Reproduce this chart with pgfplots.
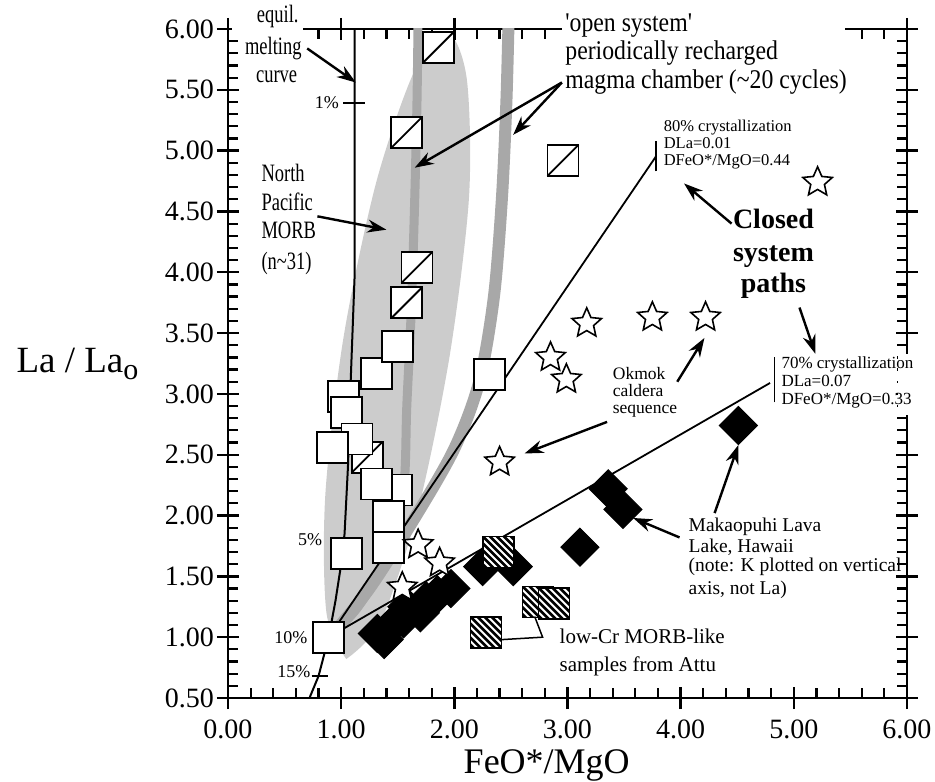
\documentclass[border=0pt]{standalone}
\usepackage{fontspec}
\setmainfont{Liberation Serif}
\newfontfamily\condA[FakeStretch=0.74]{Liberation Serif}
\newfontfamily\condB[FakeStretch=0.88]{Liberation Serif}
\usepackage{pgfplots}
\pgfplotsset{compat=1.18}
\usetikzlibrary{arrows.meta}
\newcommand\fs[2]{\fontsize{#1}{#2}\selectfont}

\pgfdeclareplotmark{sqdiag}{%
  \pgfpathrectangle{\pgfqpoint{-\pgfplotmarksize}{-\pgfplotmarksize}}{\pgfqpoint{2\pgfplotmarksize}{2\pgfplotmarksize}}%
  \pgfusepathqfillstroke
  \pgfpathmoveto{\pgfqpoint{-\pgfplotmarksize}{-\pgfplotmarksize}}%
  \pgfpathlineto{\pgfqpoint{\pgfplotmarksize}{\pgfplotmarksize}}%
  \pgfusepathqstroke
}
\pgfdeclareplotmark{rhomb}{%
  \pgfpathmoveto{\pgfqpoint{0pt}{\pgfplotmarksize}}%
  \pgfpathlineto{\pgfqpoint{\pgfplotmarksize}{0pt}}%
  \pgfpathlineto{\pgfqpoint{0pt}{-\pgfplotmarksize}}%
  \pgfpathlineto{\pgfqpoint{-\pgfplotmarksize}{0pt}}%
  \pgfpathclose
  \pgfusepathqfillstroke
}
\pgfdeclareplotmark{ostar}{%
  \pgfpathmoveto{\pgfqpoint{0pt}{15.5pt}}%
  \pgfpathlineto{\pgfqpoint{4.23pt}{5.82pt}}%
  \pgfpathlineto{\pgfqpoint{14.74pt}{4.79pt}}%
  \pgfpathlineto{\pgfqpoint{6.85pt}{-2.22pt}}%
  \pgfpathlineto{\pgfqpoint{9.11pt}{-12.54pt}}%
  \pgfpathlineto{\pgfqpoint{0pt}{-7.2pt}}%
  \pgfpathlineto{\pgfqpoint{-9.11pt}{-12.54pt}}%
  \pgfpathlineto{\pgfqpoint{-6.85pt}{-2.22pt}}%
  \pgfpathlineto{\pgfqpoint{-14.74pt}{4.79pt}}%
  \pgfpathlineto{\pgfqpoint{-4.23pt}{5.82pt}}%
  \pgfpathclose
  \pgfusepathqfillstroke
}
\pgfdeclareplotmark{sqhatch}{%
  \pgfpathrectangle{\pgfqpoint{-15.5pt}{-15.5pt}}{\pgfqpoint{31pt}{31pt}}%
  \pgfsetfillcolor{white}\pgfusepathqfill
  \begin{pgfscope}
    \pgfpathrectangle{\pgfqpoint{-15.5pt}{-15.5pt}}{\pgfqpoint{31pt}{31pt}}%
    \pgfusepathqclip
    \pgfsetlinewidth{2.6pt}%
    \foreach \a/\b in {-8/-48,-1/-41,6/-34,13/-27,20/-20,27/-13,34/-6,41/1,48/8}{%
      \pgfpathmoveto{\pgfpoint{-20pt}{\a pt}}%
      \pgfpathlineto{\pgfpoint{20pt}{\b pt}}%
    }%
    \pgfusepathqstroke
  \end{pgfscope}
  \pgfpathrectangle{\pgfqpoint{-15.5pt}{-15.5pt}}{\pgfqpoint{31pt}{31pt}}%
  \pgfusepathqstroke
}

\tikzset{arr/.style={line width=2.4pt, -{Stealth[length=19pt, width=13pt]}}}

\begin{document}
\begin{tikzpicture}
\pgfplotsset{
  common/.style={width=679pt, height=669pt, scale only axis,
    xmin=0, xmax=6, ymin=0.5, ymax=6,
    xtick={0,1,2,3,4,5,6},
    ytick={0.5,1,1.5,2,2.5,3,3.5,4,4.5,5,5.5,6}},
}
% ---------------- main axis: data, minor ticks, labels
\begin{axis}[common,
  tick align=inside, major tick length=0pt, minor tick length=10pt,
  minor x tick num=4, minor y tick num=4,
  tick style={line width=2.2pt, black},
  axis line style={line width=2.5pt},
  /pgf/number format/assume math mode=true,
  /pgf/number format/.cd, fixed, fixed zerofill, precision=2, /pgfplots/.cd,
  tick label style={font=\fs{28}{30}},
  xticklabel style={inner sep=0pt, yshift=-22pt},
  yticklabel style={inner sep=0pt, xshift=-14pt},
  every axis x label/.style={at={(axis description cs:0.342,0)}, anchor=base west, yshift=-75pt, font=\fs{36}{36}},
  every axis y label/.style={at={(axis description cs:0,0.487)}, anchor=base west, xshift=-215pt, font=\fs{37}{37}},
  xlabel={FeO*/MgO},
  ylabel={La / La\raisebox{-7pt}{\fs{30}{30}o}},
]
% North Pacific MORB field
\addplot[fill=gray!40, draw=none, smooth] coordinates {
 (1.045,0.82) (0.87,1.20) (0.86,2.17) (1.02,3.46) (1.31,4.74) (1.65,5.66)
 (1.94,5.97) (2.11,5.59) (2.13,4.62) (1.96,3.32) (1.68,2.05) (1.35,1.13) (1.045,0.82)};
% open-system paths
\addplot[gray!68, line width=9pt, smooth] coordinates {
 (0.92,1.02) (1.15,1.25) (1.40,1.65) (1.55,2.2) (1.58,2.9) (1.62,3.7) (1.65,4.6) (1.67,5.4) (1.68,6.1)};
\addplot[gray!68, line width=12pt, smooth] coordinates {
 (0.92,1.02) (1.25,1.40) (1.65,1.98) (2.0,2.55) (2.22,3.1) (2.35,3.8) (2.42,4.6) (2.46,5.4) (2.48,6.1)};
% equilibrium melting curve
\addplot[black, line width=2pt] coordinates {
 (0.72,0.5) (0.80,0.68) (0.89,1.0) (0.95,1.3) (1.0,1.6) (1.03,1.85) (1.06,2.4) (1.08,3.0) (1.10,3.5) (1.12,4.0) (1.12,6.0)};
% closed system paths
\addplot[black, line width=1.8pt] coordinates {(0.89,1.0) (3.78,4.95)};
\addplot[black, line width=1.8pt] coordinates {(0.89,1.0) (4.79,3.09)};
% Makaopuhi Lava Lake
\addplot[only marks, mark=rhomb, mark size=19pt, mark options={draw=black, fill=black, line width=1pt}] coordinates {
 (1.32,1.03) (1.38,0.98) (1.45,1.10) (1.55,1.15) (1.58,1.25) (1.70,1.20) (1.75,1.30) (1.85,1.35)
 (1.97,1.40) (2.25,1.58) (2.52,1.58) (3.11,1.74) (3.36,2.22) (3.49,2.05) (4.51,2.74)};
% low-Cr MORB-like samples from Attu
\addplot[only marks, mark=sqhatch, mark options={draw=black, line width=1.8pt}] coordinates {
 (2.39,1.70) (2.74,1.29) (2.88,1.28) (2.28,1.04)};
% squares with diagonal
\addplot[only marks, mark=sqdiag, mark size=15.5pt, mark options={draw=black, fill=white, line width=1.8pt}] coordinates {
 (1.86,5.85) (1.58,5.15) (2.96,4.92) (1.67,4.04) (1.58,3.75) (1.23,2.48)};
% open squares
\addplot[only marks, mark=square*, mark size=15.5pt, mark options={draw=black, fill=white, line width=1.8pt}] coordinates {
 (1.02,2.98) (1.05,2.85) (1.14,2.63) (0.92,2.56) (1.31,3.17) (1.50,3.39) (2.31,3.16)
 (1.49,2.21) (1.31,2.26) (1.42,1.99) (1.42,1.74) (1.05,1.69) (0.89,1.00)};
% Okmok caldera sequence (stars)
\addplot[only marks, mark=ostar, mark options={draw=black, fill=white, line width=1.6pt}] coordinates {
 (1.54,1.41) (1.68,1.76) (1.87,1.61) (2.40,2.44) (2.85,3.30) (2.99,3.12) (3.17,3.58) (3.75,3.63) (4.22,3.63) (5.21,4.74)};
\end{axis}
% ---------------- major ticks crossing the frame
\begin{axis}[common,
  tick align=center, major tick length=22pt,
  minor x tick num=0, minor y tick num=0,
  xticklabels={}, yticklabels={},
  tick style={line width=2.4pt, black},
  axis line style={draw=none},
]
\end{axis}
% ---------------- annotations
\begin{axis}[common, hide axis, clip=false]
% gaps of the frame behind text blocks
\fill[white] (axis cs:0.035,5.915) rectangle (axis cs:0.66,6.13);
\fill[white] (axis cs:2.95,5.905) rectangle (axis cs:5.45,6.13);
\fill[white] (axis cs:5.92,2.83) rectangle (axis cs:6.12,3.33);
% melting curve
\node[anchor=base, font=\condA\fs{25}{25}] at (axis cs:0.44,6.05) {equil.};
\node[anchor=base, font=\condA\fs{25}{25}] at (axis cs:0.40,5.79) {melting};
\node[anchor=base, font=\condA\fs{25}{25}] at (axis cs:0.43,5.56) {curve};
\draw[arr] (axis cs:0.70,5.84) -- (axis cs:1.13,5.56);
\draw[line width=2pt] (axis cs:1.02,5.39) -- (axis cs:1.21,5.39);
\draw[line width=2pt] (axis cs:0.74,0.68) -- (axis cs:0.88,0.68);
\node[anchor=base east, font=\fs{18}{18}] at (axis cs:1.01,5.35) {1\%};
\node[anchor=base, font=\fs{18}{18}] at (axis cs:0.725,1.75) {5\%};
\node[anchor=base, font=\fs{18}{18}] at (axis cs:0.556,0.95) {10\%};
\node[anchor=base, font=\fs{18}{18}] at (axis cs:0.583,0.67) {15\%};
% North Pacific MORB
\node[anchor=base west, font=\condA\fs{25}{25}] at (axis cs:0.265,4.75) {North};
\node[anchor=base west, font=\condA\fs{25}{25}] at (axis cs:0.265,4.51) {Pacific};
\node[anchor=base west, font=\condA\fs{25}{25}] at (axis cs:0.265,4.28) {MORB};
\node[anchor=base west, font=\condA\fs{25}{25}] at (axis cs:0.265,4.02) {(n\textasciitilde31)};
\draw[arr] (axis cs:0.79,4.46) -- (axis cs:1.40,4.35);
% open system
\node[anchor=base west, font=\condB\fs{27}{27}] at (axis cs:2.95,5.98) {'open system'};
\node[anchor=base west, font=\condB\fs{27}{27}] at (axis cs:2.95,5.75) {periodically recharged};
\node[anchor=base west, font=\condB\fs{27}{27}] at (axis cs:2.95,5.51) {magma chamber (\textasciitilde20 cycles)};
\draw[arr] (axis cs:2.95,5.56) -- (axis cs:2.52,5.13);
\draw[arr] (axis cs:2.95,5.56) -- (axis cs:1.65,4.86);
% 80% crystallization
\draw[line width=1.5pt] (axis cs:3.78,4.83) -- (axis cs:3.78,5.08);
\node[anchor=base west, font=\fs{16.5}{16.5}] at (axis cs:3.82,5.155) {80\% crystallization};
\node[anchor=base west, font=\fs{16.5}{16.5}] at (axis cs:3.82,5.018) {DLa=0.01};
\node[anchor=base west, font=\fs{16.5}{16.5}] at (axis cs:3.82,4.878) {DFeO*/MgO=0.44};
% 70% crystallization
\draw[line width=1.5pt] (axis cs:4.83,2.93) -- (axis cs:4.83,3.30);
\node[anchor=base west, font=\fs{17}{17}] at (axis cs:4.86,3.205) {70\% crystallization};
\node[anchor=base west, font=\fs{17}{17}] at (axis cs:4.86,3.058) {DLa=0.07};
\node[anchor=base west, font=\fs{17}{17}] at (axis cs:4.86,2.91) {DFeO*/MgO=0.33};
% Closed system paths
\node[anchor=base, font=\bfseries\fs{28}{28}] at (axis cs:4.82,4.36) {Closed};
\node[anchor=base, font=\bfseries\fs{28}{28}] at (axis cs:4.82,4.09) {system};
\node[anchor=base, font=\bfseries\fs{28}{28}] at (axis cs:4.82,3.83) {paths};
\draw[arr] (axis cs:4.45,4.40) -- (axis cs:4.03,4.73);
\draw[arr] (axis cs:5.05,3.71) -- (axis cs:5.19,3.33);
% Okmok
\node[anchor=base west, font=\fs{17.5}{17.5}] at (axis cs:3.37,3.12) {Okmok};
\node[anchor=base west, font=\fs{17.5}{17.5}] at (axis cs:3.37,2.975) {caldera};
\node[anchor=base west, font=\fs{17.5}{17.5}] at (axis cs:3.37,2.84) {sequence};
\draw[arr] (axis cs:3.97,3.10) -- (axis cs:4.21,3.46);
\draw[arr] (axis cs:3.35,2.77) -- (axis cs:2.62,2.51);
% Makaopuhi
\node[anchor=base west, font=\fs{19.5}{19.5}] at (axis cs:4.04,1.865) {Makaopuhi Lava};
\node[anchor=base west, font=\fs{19.5}{19.5}] at (axis cs:4.04,1.70) {Lake, Hawaii};
\node[anchor=base west, font=\fs{19.5}{19.5}] at (axis cs:4.04,1.536) {(note: K plotted on vertical};
\node[anchor=base west, font=\fs{19.5}{19.5}] at (axis cs:4.04,1.355) {axis, not La)};
\draw[arr] (axis cs:4.30,2.02) -- (axis cs:4.51,2.58);
\draw[arr] (axis cs:3.99,1.82) -- (axis cs:3.58,1.98);
% low-Cr MORB-like
\draw[line width=1.5pt] (axis cs:2.42,0.98) -- (axis cs:2.78,1.00) -- (axis cs:2.71,1.17);
\node[anchor=base west, font=\fs{21}{21}] at (axis cs:2.90,0.952) {low-Cr MORB-like};
\node[anchor=base west, font=\fs{21}{21}] at (axis cs:2.90,0.714) {samples from Attu};
\end{axis}
\pgfresetboundingbox
\useasboundingbox (-228pt,-84pt) rectangle (707pt,698pt);
\end{tikzpicture}
\end{document}
